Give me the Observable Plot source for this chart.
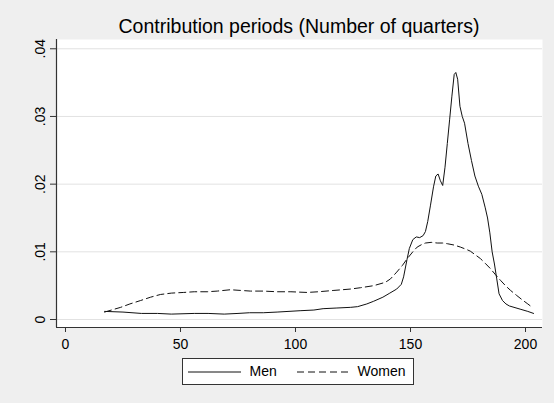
<!DOCTYPE html>
<html>
<head>
<meta charset="utf-8">
<script src="https://cdn.jsdelivr.net/npm/d3@7"></script>
<script src="https://cdn.jsdelivr.net/npm/@observablehq/plot@0.6"></script>
<style>
  html, body { margin: 0; padding: 0; background: #efefef; }
  body { position: relative; width: 554px; height: 403px; overflow: hidden; font-family: "Liberation Sans", Arial, sans-serif; color: #000; }
  #title { box-sizing: border-box; height: 37px; padding-top: 17px; line-height: 19.5px; font-size: 19.5px; margin-left: 56px; width: 486px; text-align: center; white-space: nowrap; }
  #chart svg { display: block; background: transparent; }
  #legend { position: absolute; left: 182px; top: 358px; width: 232px; height: 27px; box-sizing: border-box; border: 1px solid #333; background: #fff; }
  #legend svg { display: block; }
</style>
</head>
<body>
<div id="title">Contribution periods (Number of quarters)</div>
<div id="chart"></div>
<div id="legend"></div>
<script>
// ---- data ----
const menX = [17, 25, 33, 40, 46, 56, 62, 69, 75, 80, 86, 92, 102, 108, 112, 118, 124, 127, 131, 134, 138, 141, 144, 146, 147, 148.5, 149.5, 151, 152.5, 154, 155.5, 156.5, 157.5, 158.7, 160, 161, 162, 163, 164, 165, 166, 167, 168, 169, 169.7, 170.5, 171.5, 172.5, 173.5, 175, 176.5, 178, 179.5, 181, 182.5, 183.5, 184.5, 185.5, 186.5, 187.5, 188.5, 190, 191.5, 193, 195, 198, 201, 203.5];
const menY = [.0012, .0011, .0009, .0009, .0008, .0009, .0009, .0008, .0009, .0010, .0010, .0011, .0013, .0014, .0016, .0017, .0018, .0019, .0023, .0027, .0033, .0039, .0045, .0052, .0063, .0089, .0105, .0118, .0122, .0121, .0124, .0130, .0145, .0169, .0196, .0212, .0215, .0205, .0198, .0225, .0260, .0295, .0330, .0362, .0365, .0355, .0315, .0300, .0290, .0260, .0235, .0212, .0197, .0185, .0165, .0150, .0128, .0100, .0082, .0060, .0038, .0028, .0023, .0020, .0018, .0015, .0012, .0009];

const womenX = [17, 20, 24, 28, 32.6, 37, 41.3, 46, 51.4, 56, 61.6, 66, 71.7, 76, 80.4, 86, 92, 98, 105, 110, 116.7, 123.9, 128.3, 134, 139.1, 141.3, 144, 146.5, 148.6, 151, 152.9, 155, 156.5, 159, 161.6, 164, 166, 169, 171.7, 174, 176, 178, 180.4, 182.5, 184.8, 187, 189.1, 191.3, 193.5, 196, 198.6, 201, 203.3];
const womenY = [.0011, .0014, .0018, .0023, .0028, .0033, .0037, .0039, .0040, .0041, .0041, .0042, .0044, .0043, .0042, .0042, .0041, .0041, .0040, .0041, .0043, .0045, .0047, .0050, .0055, .0060, .0070, .0080, .0090, .0100, .0107, .0111, .0113, .0114, .0113, .0113, .0112, .0110, .0107, .0104, .0101, .0096, .0090, .0083, .0075, .0066, .0058, .0050, .0043, .0036, .0029, .0023, .0017];

const xTicks = [0, 50, 100, 150, 200];
const yTicks = [0, 0.01, 0.02, 0.03, 0.04];
const yTickLabels = ["0", ".01", ".02", ".03", ".04"];
const seriesNames = ["Men", "Women"];

const men = menX.map((x, i) => ({x, y: menY[i]}));
const women = womenX.map((x, i) => ({x, y: womenY[i]}));

const xDomain = [-3.91, 207.39];
const yDomain = [-0.00118, 0.04137];
const axisColor = "#333";
const gridColor = "#e2e2e2";

const plot = Plot.plot({
  width: 554,
  height: 366,
  marginLeft: 56,
  marginRight: 12,
  marginTop: 2,
  marginBottom: 76,
  style: {fontFamily: "'Liberation Sans', Arial, sans-serif", background: "transparent", color: "#000"},
  x: {domain: xDomain, axis: null},
  y: {domain: yDomain, axis: null},
  marks: [
    Plot.frame({fill: "white", stroke: "none"}),
    Plot.ruleY(yTicks, {stroke: gridColor, strokeWidth: 1}),
    Plot.line(women, {x: "x", y: "y", stroke: "#111", strokeWidth: 1, strokeDasharray: "7,4", curve: "linear"}),
    Plot.line(men, {x: "x", y: "y", stroke: "#111", strokeWidth: 1, curve: "linear"}),
    Plot.ruleX([xDomain[0]], {stroke: axisColor, strokeWidth: 1.2}),
    Plot.ruleY([yDomain[0]], {stroke: axisColor, strokeWidth: 1.2}),
    Plot.axisX({ticks: xTicks, tickSize: 5, tickPadding: 7, fontSize: 14, label: null, stroke: axisColor, tickFormat: d => String(d)}),
    Plot.axisY({ticks: yTicks, tickSize: 6, label: null, stroke: axisColor, tickFormat: () => ""}),
    Plot.text(yTicks, {y: d => d, text: (d, i) => yTickLabels[i], frameAnchor: "left", dx: -16, rotate: -90, fontSize: 14, textAnchor: "middle", lineAnchor: "middle", fill: "#000"})
  ]
});
document.getElementById("chart").appendChild(plot);

// legend drawn with Plot too (sample lines + labels)
const legendItems = [
  {name: seriesNames[0], x1: 5, x2: 58, tx: 66},
  {name: seriesNames[1], x1: 114, x2: 167, tx: 174}
];
const legend = Plot.plot({
  width: 230, height: 25, margin: 0,
  style: {fontFamily: "'Liberation Sans', Arial, sans-serif", background: "transparent", color: "#000"},
  x: {type: "identity", axis: null}, y: {type: "identity", axis: null},
  marks: [
    Plot.ruleY([legendItems[0]], {x1: "x1", x2: "x2", y: 12.5, stroke: "#111", strokeWidth: 1}),
    Plot.ruleY([legendItems[1]], {x1: "x1", x2: "x2", y: 12.5, stroke: "#111", strokeWidth: 1, strokeDasharray: "7,4"}),
    Plot.text(legendItems, {x: "tx", y: 12.5, text: "name", textAnchor: "start", fontSize: 14, fill: "#000"})
  ]
});
document.getElementById("legend").appendChild(legend);
</script>
</body>
</html>
